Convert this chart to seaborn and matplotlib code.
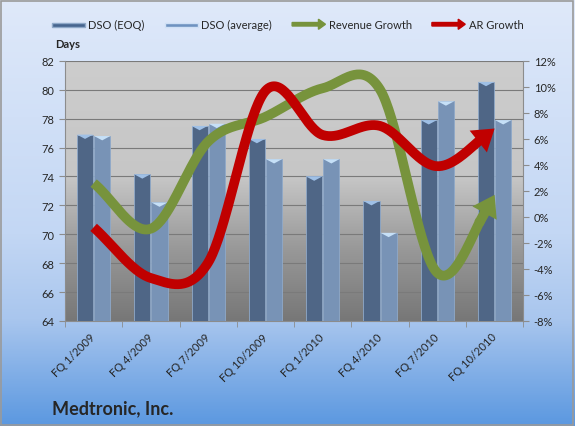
import numpy as np
import pandas as pd
import matplotlib
matplotlib.use("Agg")
import matplotlib.pyplot as plt
import matplotlib.patches as mpatches
from matplotlib.colors import LinearSegmentedColormap
from matplotlib.legend_handler import HandlerPatch
import seaborn as sns

sns.set_style("white")
plt.rcParams['font.family'] = ['Lato', 'DejaVu Sans']

# data
quarters = ["FQ 1/2009", "FQ 4/2009", "FQ 7/2009", "FQ 10/2009",
            "FQ 1/2010", "FQ 4/2010", "FQ 7/2010", "FQ 10/2010"]
dso_eoq = [76.9, 74.15, 77.5, 76.6, 74.0, 72.3, 77.9, 80.55]
dso_avg = [76.8, 72.2, 77.65, 75.2, 75.2, 70.1, 79.2, 77.9]
revenue_growth = [2.6, -0.9, 5.8, 7.7, 9.9, 9.8, -4.3, 1.7]
ar_growth = [-0.8, -4.7, -3.5, 9.7, 6.3, 7.0, 3.9, 6.8]

eoq_color = "#46658f"
avg_color = "#6e92c0"
green = "#77933c"
red = "#c00000"


def smooth(values, n=40):
    # Excel-style smoothed line (Catmull-Rom through the points)
    p = np.asarray(values, dtype=float)
    m = np.zeros_like(p)
    m[1:-1] = (p[2:] - p[:-2]) / 2
    m[0] = p[1] - p[0]
    m[-1] = p[-1] - p[-2]
    xs, ys = [], []
    for i in range(len(p) - 1):
        t = np.linspace(0, 1, n, endpoint=False)
        h00 = 2 * t**3 - 3 * t**2 + 1
        h10 = t**3 - 2 * t**2 + t
        h01 = -2 * t**3 + 3 * t**2
        h11 = t**3 - t**2
        xs.append(i + t)
        ys.append(h00 * p[i] + h10 * m[i] + h01 * p[i + 1] + h11 * m[i + 1])
    xs.append([len(p) - 1])
    ys.append([p[-1]])
    return np.concatenate(xs), np.concatenate(ys)


df = pd.DataFrame({
    "Quarter": quarters * 2,
    "DSO": dso_eoq + dso_avg,
    "Series": ["DSO (EOQ)"] * 8 + ["DSO (average)"] * 8,
})

fig = plt.figure(figsize=(5.75, 4.27), dpi=100)

# figure background gradient
bg = fig.add_axes([0, 0, 1, 1], zorder=-10)
bg_cmap = LinearSegmentedColormap.from_list(
    "bg", [(0, "#dfe9fa"), (0.55, "#c3d7f4"), (0.75, "#a9c6ee"), (1, "#5b98e0")])
bg.imshow(np.linspace(0, 1, 256).reshape(-1, 1), cmap=bg_cmap, aspect="auto",
          extent=(0, 1, 0, 1), origin="upper")
bg.set_xlim(0, 1)
bg.set_ylim(0, 1)
bg.axis("off")
bg.add_patch(mpatches.Rectangle((0.002, 0.003), 0.995, 0.993, fill=False,
                                edgecolor="#9a9a9a", lw=1.2))

ax = fig.add_axes([0.113, 0.246, 0.797, 0.609])
ax.patch.set_visible(False)

sns.barplot(data=df, x="Quarter", y="DSO", hue="Series",
            palette=[eoq_color, avg_color], width=0.6, gap=0.06,
            edgecolor="#8fa9c9", linewidth=0.6, legend=False, ax=ax, zorder=3)

# light "cap" on top of each bar
for cont, cap in zip(ax.containers, ["#9fc0e6", "#c6e0f7"]):
    for p in cont:
        x0, w, h = p.get_x(), p.get_width(), p.get_height()
        ax.add_patch(mpatches.Polygon([(x0, h), (x0 + w, h), (x0 + w / 2, h - 0.3)],
                                      closed=True, facecolor=cap, edgecolor="none",
                                      zorder=4))

# plot area gradient
pa_cmap = LinearSegmentedColormap.from_list(
    "pa", [(0, "#cdcdcd"), (0.45, "#c6c6c6"), (0.72, "#999999"), (1, "#777777")])
ax.imshow(np.linspace(0, 1, 256).reshape(-1, 1), cmap=pa_cmap, aspect="auto",
          extent=(-0.5, 7.5, 64, 82), origin="upper", zorder=0)
ax.set_xlim(-0.5, 7.5)
ax.set_ylim(64, 82)
ax.set_yticks(range(64, 83, 2))
ax.set_axisbelow(True)
ax.grid(axis="y", color="#7a7a7a", lw=0.8)
ax.grid(axis="x", visible=False)

ax.set_xticks(range(8))
ax.set_xticklabels(quarters, rotation=45, ha="right", va="center",
                   rotation_mode="anchor", fontsize=8)
ax.set_xticks(np.arange(-0.5, 8, 1), minor=True)
ax.tick_params(axis="x", which="major", length=0, pad=10)
ax.tick_params(axis="x", which="minor", length=4, color="#8c8c8c", bottom=True)
ax.tick_params(axis="y", length=4, color="#8c8c8c", labelsize=8, left=True)
ax.set_xlabel("")
ax.set_ylabel("")
for s in ["top", "right"]:
    ax.spines[s].set_visible(False)
for s in ["left", "bottom"]:
    ax.spines[s].set_color("#8c8c8c")

ax2 = ax.twinx()
ax2.set_ylim(-8, 12)
ax2.set_yticks(range(-8, 13, 2))
ax2.set_yticklabels([f"{v}%" for v in range(-8, 13, 2)])
ax2.tick_params(axis="y", length=4, color="#8c8c8c", labelsize=8, right=True)
for s in ["top", "left", "bottom"]:
    ax2.spines[s].set_visible(False)
ax2.spines["right"].set_color("#8c8c8c")

for vals, col in [(revenue_growth, green), (ar_growth, red)]:
    xs, ys = smooth(vals)
    cut = len(xs) - 12
    ax2.plot(xs[:cut + 2], ys[:cut + 2], color=col, lw=7,
             solid_capstyle="butt", zorder=5)
    ax2.annotate("", xy=(xs[-1], ys[-1]), xytext=(xs[cut], ys[cut]),
                 arrowprops=dict(arrowstyle="simple,head_length=0.75,head_width=1.0,tail_width=0.36",
                                 facecolor=col, edgecolor="none", lw=0,
                                 mutation_scale=20, shrinkA=0, shrinkB=0),
                 zorder=5)

fig.text(0.096, 0.888, "Days", fontsize=8, fontweight="bold")
fig.text(0.09, 0.03, "Medtronic, Inc.", fontsize=13, fontweight="bold")


def make_arrow(legend, orig_handle, xdescent, ydescent, width, height, fontsize):
    return mpatches.FancyArrow(-xdescent, height / 2 - ydescent, width, 0,
                               width=height * 0.45, head_width=height * 1.3,
                               head_length=height * 0.9, length_includes_head=True)


def make_bar(legend, orig_handle, xdescent, ydescent, width, height, fontsize):
    return mpatches.Rectangle((-xdescent, height * 0.2 - ydescent), width, height * 0.5)


handles = [
    mpatches.Patch(facecolor=eoq_color, edgecolor="#8fa9c9", label="DSO (EOQ)"),
    mpatches.Patch(facecolor=avg_color, edgecolor="#cfe0f5", label="DSO (average)"),
    mpatches.Patch(color=green, label="Revenue Growth"),
    mpatches.Patch(color=red, label="AR Growth"),
]
fig.legend(handles=handles, loc="center", bbox_to_anchor=(0.5, 0.94), ncol=4,
           frameon=False, fontsize=8, handlelength=3.0, columnspacing=1.8,
           handletextpad=0.3,
           handler_map={handles[0]: HandlerPatch(patch_func=make_bar),
                        handles[1]: HandlerPatch(patch_func=make_bar),
                        handles[2]: HandlerPatch(patch_func=make_arrow),
                        handles[3]: HandlerPatch(patch_func=make_arrow)})

fig.savefig("out.png", dpi=100)
